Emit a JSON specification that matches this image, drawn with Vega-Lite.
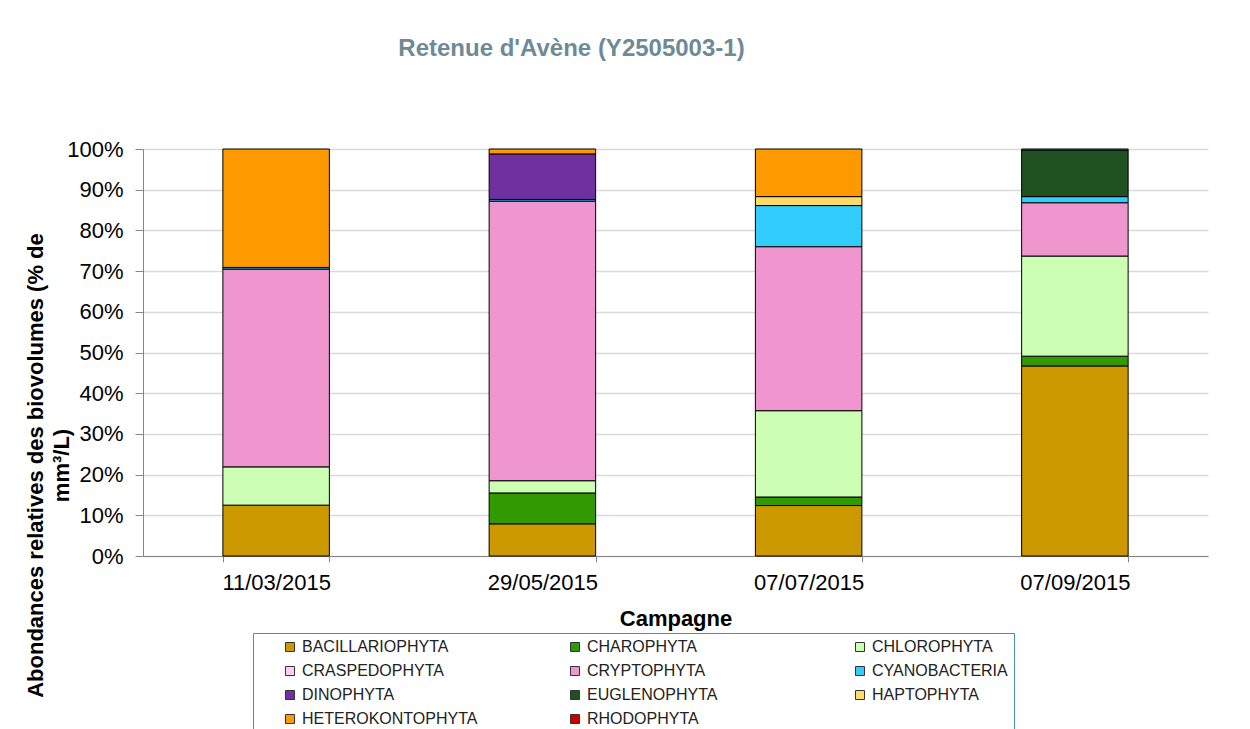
{
  "$schema": "https://vega.github.io/schema/vega-lite/v6.json",
  "width": 1065,
  "height": 407,
  "autosize": {"type": "none"},
  "padding": {"left": 143, "top": 149, "right": 42, "bottom": 173},
  "background": "white",
  "title": {
    "text": "Retenue d'Avène (Y2505003-1)",
    "anchor": "middle",
    "dx": -104,
    "offset": 77,
    "fontSize": 24,
    "font": "Liberation Sans",
    "fontWeight": "bold",
    "color": "#6f8a97"
  },
  "data": {
    "values": [
      {"campagne": "11/03/2015", "groupe": "BACILLARIOPHYTA", "pct": 12.5},
      {"campagne": "11/03/2015", "groupe": "CHLOROPHYTA", "pct": 9.4},
      {"campagne": "11/03/2015", "groupe": "CRYPTOPHYTA", "pct": 48.6},
      {"campagne": "11/03/2015", "groupe": "CYANOBACTERIA", "pct": 0.4},
      {"campagne": "11/03/2015", "groupe": "HETEROKONTOPHYTA", "pct": 29.1},
      {"campagne": "29/05/2015", "groupe": "BACILLARIOPHYTA", "pct": 7.9},
      {"campagne": "29/05/2015", "groupe": "CHAROPHYTA", "pct": 7.6},
      {"campagne": "29/05/2015", "groupe": "CHLOROPHYTA", "pct": 3.0},
      {"campagne": "29/05/2015", "groupe": "CRYPTOPHYTA", "pct": 68.7},
      {"campagne": "29/05/2015", "groupe": "CYANOBACTERIA", "pct": 0.4},
      {"campagne": "29/05/2015", "groupe": "DINOPHYTA", "pct": 11.2},
      {"campagne": "29/05/2015", "groupe": "HETEROKONTOPHYTA", "pct": 1.2},
      {"campagne": "07/07/2015", "groupe": "BACILLARIOPHYTA", "pct": 12.4},
      {"campagne": "07/07/2015", "groupe": "CHAROPHYTA", "pct": 2.1},
      {"campagne": "07/07/2015", "groupe": "CHLOROPHYTA", "pct": 21.2},
      {"campagne": "07/07/2015", "groupe": "CRYPTOPHYTA", "pct": 40.3},
      {"campagne": "07/07/2015", "groupe": "CYANOBACTERIA", "pct": 10.1},
      {"campagne": "07/07/2015", "groupe": "HAPTOPHYTA", "pct": 2.2},
      {"campagne": "07/07/2015", "groupe": "HETEROKONTOPHYTA", "pct": 11.7},
      {"campagne": "07/09/2015", "groupe": "BACILLARIOPHYTA", "pct": 46.7},
      {"campagne": "07/09/2015", "groupe": "CHAROPHYTA", "pct": 2.4},
      {"campagne": "07/09/2015", "groupe": "CHLOROPHYTA", "pct": 24.6},
      {"campagne": "07/09/2015", "groupe": "CRYPTOPHYTA", "pct": 13.1},
      {"campagne": "07/09/2015", "groupe": "CYANOBACTERIA", "pct": 1.5},
      {"campagne": "07/09/2015", "groupe": "EUGLENOPHYTA", "pct": 11.45},
      {"campagne": "07/09/2015", "groupe": "HETEROKONTOPHYTA", "pct": 0.25}
    ]
  },
  "mark": {"type": "bar", "stroke": "#000000", "strokeWidth": 1},
  "encoding": {
    "x": {
      "field": "campagne",
      "type": "nominal",
      "sort": ["11/03/2015", "29/05/2015", "07/07/2015", "07/09/2015"],
      "scale": {"paddingInner": 0.6, "paddingOuter": 0.3},
      "axis": {
        "title": "Campagne",
        "labelAngle": 0,
        "tickBand": "extent",
        "domainColor": "#868686",
        "tickColor": "#868686",
        "tickSize": 6,
        "labelFont": "Liberation Sans",
        "labelFontSize": 22,
        "labelColor": "#000000",
        "labelPadding": 10,
        "titleFont": "Liberation Sans",
        "titleFontSize": 22,
        "titleFontWeight": "bold",
        "titleColor": "#000000",
        "titlePadding": 15
      }
    },
    "y": {
      "field": "pct",
      "type": "quantitative",
      "stack": "normalize",
      "scale": {"domain": [0, 1]},
      "axis": {
        "title": ["Abondances relatives des biovolumes (% de", "mm³/L)"],
        "values": [0, 0.1, 0.2, 0.3, 0.4, 0.5, 0.6, 0.7, 0.8, 0.9, 1],
        "format": ".0%",
        "grid": true,
        "gridColor": "#d9d9d9",
        "gridWidth": 1.5,
        "domainColor": "#868686",
        "tickColor": "#868686",
        "tickSize": 8,
        "labelFont": "Liberation Sans",
        "labelFontSize": 22,
        "labelColor": "#000000",
        "labelPadding": 12,
        "titleFont": "Liberation Sans",
        "titleFontSize": 22,
        "titleFontWeight": "bold",
        "titleColor": "#000000",
        "titleAngle": -90,
        "titleAlign": "center",
        "titleBaseline": "middle",
        "titleLineHeight": 26,
        "titleX": -108,
        "titleY": 316
      }
    },
    "color": {
      "field": "groupe",
      "type": "nominal",
      "scale": {
        "domain": ["BACILLARIOPHYTA", "CHAROPHYTA", "CHLOROPHYTA", "CRASPEDOPHYTA", "CRYPTOPHYTA", "CYANOBACTERIA", "DINOPHYTA", "EUGLENOPHYTA", "HAPTOPHYTA", "HETEROKONTOPHYTA", "RHODOPHYTA"],
        "range": ["#cc9900", "#339900", "#ccffb3", "#ffccf2", "#f096cf", "#33ccff", "#7030a0", "#1f5220", "#ffdb66", "#ff9900", "#cc0000"]
      },
      "legend": {
        "orient": "none",
        "direction": "horizontal",
        "legendX": 110,
        "legendY": 484,
        "columns": 3,
        "gridAlign": "all",
        "title": " ",
        "titleOrient": "left",
        "titleFontSize": 10,
        "titlePadding": 23,
        "padding": 6,
        "strokeColor": "#4a8fa8",
        "fillColor": "white",
        "symbolType": "square",
        "symbolSize": 81,
        "symbolStrokeColor": "#333333",
        "symbolStrokeWidth": 1,
        "labelFont": "Liberation Sans",
        "labelFontSize": 16,
        "labelColor": "#222222",
        "labelOffset": 4,
        "labelLimit": 300,
        "columnPadding": 89,
        "rowPadding": 8
      }
    },
    "order": {"field": "groupe", "sort": "ascending"}
  },
  "config": {"view": {"stroke": null}}
}
